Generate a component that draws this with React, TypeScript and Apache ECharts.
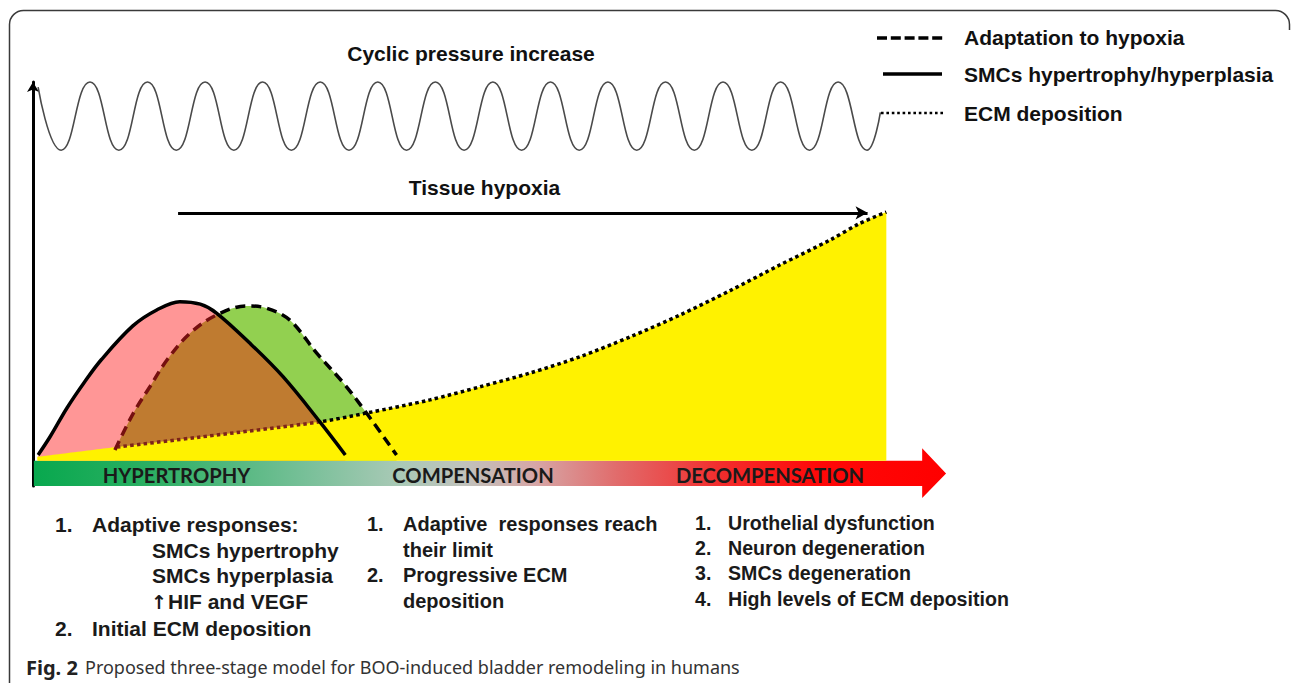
import React, { useEffect, useRef } from "react";
import * as echarts from "echarts";

// x: course of the disease (0 = onset, 100 = end of decompensation); y: relative level
const waveX = [0.6, 3.3, 6.68, 10.06, 13.42, 16.79, 20.17, 23.54, 26.91, 30.28, 33.66, 37.03, 40.4, 43.77, 47.15, 50.52, 53.89, 57.26, 60.64, 64.01, 67.37, 70.75, 74.12, 77.5, 80.86, 84.24, 87.61, 90.99, 94.35, 97.73, 99.3];
const waveY = [148, 123, 150, 123, 150, 123, 150, 123, 150, 123, 150, 123, 150, 123, 150, 123, 150, 123, 150, 123, 150, 123, 150, 123, 150, 123, 150, 123, 150, 123, 138];

const smcX = [0.6, 2, 4, 6, 8, 11.7, 14.5, 17.2, 19.6, 21.5, 25.4, 29.3, 33.6, 36.6];
const smcY = [2.3, 9.5, 21, 31, 40, 53.4, 59.7, 63, 62, 58.5, 46.6, 33.3, 15.5, 2.3];

const adaptX = [9.6, 11.75, 13.7, 15.7, 18.4, 21.5, 25, 27.4, 30.1, 33.25, 36.4, 39.1, 42.6];
const adaptY = [4.3, 18.8, 29.3, 39.9, 50.5, 57.7, 61.3, 60.4, 55.7, 42.6, 30.7, 18.8, 2.3];

const ecmX = [0.5, 9.8, 19.6, 33.6, 39.1, 46.5, 52.4, 58.3, 64.1, 70, 75.8, 81.7, 87.5, 93.4, 96.9, 100];
const ecmY = [1.5, 5.4, 9.4, 15.4, 18.9, 24.1, 29.3, 34.8, 41.2, 49.1, 57.7, 67.4, 77.5, 87.4, 94, 98.5];

const hypoxiaFrom = 17.0;
const hypoxiaTo = 97.8;
const hypoxiaLevel = 98.2;

// stage arrow: band from x 0 to head base, head to tip
const stageStart = 0.1;
const stageHeadBase = 104.2;
const stageTip = 107.0;
const stageTop = 0;
const stageBottom = -10;
const stageHeadTop = 5;
const stageHeadBottom = -14.8;

const stageNames = ["HYPERTROPHY", "COMPENSATION", "DECOMPENSATION"];

const legendLabels = ["Adaptation to hypoxia", "SMCs hypertrophy/hyperplasia", "ECM deposition"];

const col1 = [
  ["1.", "Adaptive responses:"],
  ["", "SMCs hypertrophy"],
  ["", "SMCs hyperplasia"],
  ["", "HIF and VEGF"],
  ["2.", "Initial ECM deposition"],
];
const col2 = [
  ["1.", "Adaptive  responses reach"],
  ["", "their limit"],
  ["2.", "Progressive ECM"],
  ["", "deposition"],
];
const col3 = [
  ["1.", "Urothelial dysfunction"],
  ["2.", "Neuron degeneration"],
  ["3.", "SMCs degeneration"],
  ["4.", "High levels of ECM deposition"],
];

const pairs = (xs: number[], ys: number[]) => xs.map((x, i) => [x, ys[i]]);

const ARIAL = "Liberation Sans, Arial, sans-serif";

function txt(text: string, x: number, y: number, o: any = {}) {
  const align = o.align || "left";
  return {
    type: "text",
    x,
    y,
    silent: true,
    z: 10,
    style: {
      text,
      fill: o.color || "#111",
      fontSize: o.size || 21,
      fontWeight: o.weight || "bold",
      fontFamily: o.family || ARIAL,
      align,
      textAlign: align,
      verticalAlign: "middle",
      textVerticalAlign: "middle",
    },
  };
}

export default function App() {
  const ref = useRef<HTMLDivElement>(null);
  useEffect(() => {
    if (!ref.current) return;
    const chart = echarts.init(ref.current, undefined, { renderer: "svg" });

    const bandGradient = new echarts.graphic.LinearGradient(0, 0, 1, 0, [
      { offset: 0, color: "#08a84e" },
      { offset: 0.13, color: "#2caf63" },
      { offset: 0.29, color: "#74bf96" },
      { offset: 0.4, color: "#a9c9b6" },
      { offset: 0.47, color: "#c0c3bd" },
      { offset: 0.55, color: "#d6a6a6" },
      { offset: 0.64, color: "#e16b6b" },
      { offset: 0.75, color: "#f22e2e" },
      { offset: 0.86, color: "#ff0808" },
      { offset: 1, color: "#ff0000" },
    ]);

    const dashedGradient = new echarts.graphic.LinearGradient(0, 0, 1, 0, [
      { offset: 0, color: "#761010" },
      { offset: 0.36, color: "#761010" },
      { offset: 0.365, color: "#000" },
      { offset: 1, color: "#000" },
    ]);

    const dottedGradient = new echarts.graphic.LinearGradient(0, 0, 1, 0, [
      { offset: 0, color: "rgba(0,0,0,0)" },
      { offset: 0.094, color: "rgba(0,0,0,0)" },
      { offset: 0.095, color: "#7d2418" },
      { offset: 0.333, color: "#7d2418" },
      { offset: 0.335, color: "#000" },
      { offset: 1, color: "#000" },
    ]);

    const stageFont = { align: "center", family: "Lato, sans-serif", size: 20.2, color: "#1a1a1a" };

    const graphics: any[] = [
      {
        type: "rect",
        silent: true,
        z: 0,
        shape: { x: 9.5, y: 10.5, width: 1280, height: 720, r: [14, 14, 0, 0] },
        style: { fill: "none", stroke: "#3a3a3a", lineWidth: 1.5 },
      },
      {
        type: "rect",
        silent: true,
        z: 1,
        shape: { x: 1286, y: 30, width: 10, height: 660 },
        style: { fill: "#fff" },
      },
      txt("Cyclic pressure increase", 471, 53, { align: "center" }),
      txt("Tissue hypoxia", 484.5, 187, { align: "center" }),
      // legend
      {
        type: "line",
        silent: true,
        z: 10,
        shape: { x1: 877, y1: 38, x2: 943, y2: 38 },
        style: { stroke: "#000", lineWidth: 3.5, lineDash: [10, 3.8] },
      },
      {
        type: "line",
        silent: true,
        z: 10,
        shape: { x1: 883, y1: 74, x2: 942, y2: 74 },
        style: { stroke: "#000", lineWidth: 3.3 },
      },
      {
        type: "line",
        silent: true,
        z: 10,
        shape: { x1: 881, y1: 113, x2: 945, y2: 113 },
        style: { stroke: "#000", lineWidth: 2.6, lineDash: [2.6, 2.8] },
      },
      txt(legendLabels[0], 964, 37),
      txt(legendLabels[1], 964, 74.5),
      txt(legendLabels[2], 964, 113),
      // stage names
      txt(stageNames[0], 176.5, 474.5, stageFont),
      txt(stageNames[1], 473, 474.5, stageFont),
      txt(stageNames[2], 770, 474.5, stageFont),
      // caption
      txt("Fig. 2", 26, 667, { family: "Noto Sans, sans-serif", size: 20, color: "#222" }),
      txt("Proposed three-stage model for BOO-induced bladder remodeling in humans", 85, 667, {
        family: "Noto Sans, sans-serif",
        size: 18,
        weight: "normal",
        color: "#333",
      }),
    ];

    const col1Y = [524, 550, 575, 601.5, 628.5];
    col1.forEach((row, i) => {
      if (row[0]) graphics.push(txt(row[0], 55, col1Y[i], { color: "#1a1a1a" }));
      let x = 92;
      if (i === 1 || i === 2) x = 152;
      if (i === 3) {
        graphics.push(txt("\u2191", 151, col1Y[i], { color: "#1a1a1a", family: "DejaVu Sans, sans-serif", size: 19 }));
        x = 168;
      }
      graphics.push(txt(row[1], x, col1Y[i], { color: "#1a1a1a" }));
    });
    const col2Y = [524, 549.5, 575, 601];
    col2.forEach((row, i) => {
      if (row[0]) graphics.push(txt(row[0], 367, col2Y[i], { color: "#1a1a1a", size: 20 }));
      graphics.push(txt(row[1], 403, col2Y[i], { color: "#1a1a1a", size: 20 }));
    });
    const col3Y = [523, 548, 573, 599];
    col3.forEach((row, i) => {
      graphics.push(txt(row[0], 695, col3Y[i], { color: "#1a1a1a", size: 19.6 }));
      graphics.push(txt(row[1], 728, col3Y[i], { color: "#1a1a1a", size: 19.6 }));
    });

    const option: any = {
      animation: false,
      grid: { left: 33, top: 82, width: 1024, height: 404, containLabel: false },
      xAxis: { type: "value", min: 0, max: 120, show: false },
      yAxis: {
        type: "value",
        min: -10,
        max: 150,
        axisLine: {
          show: true,
          symbol: ["none", "arrow"],
          symbolSize: [9, 10],
          lineStyle: { color: "#000", width: 3 },
        },
        axisTick: { show: false },
        axisLabel: { show: false },
        splitLine: { show: false },
      },
      series: [
        {
          name: "Cyclic pressure increase",
          type: "line",
          data: pairs(waveX, waveY),
          smooth: 0.5,
          symbol: "none",
          clip: false,
          silent: true,
          lineStyle: { color: "#4a4a4a", width: 1.6 },
        },
        {
          name: "Adaptation to hypoxia area",
          type: "line",
          data: pairs(adaptX, adaptY),
          smooth: 0.35,
          symbol: "none",
          silent: true,
          lineStyle: { width: 0 },
          areaStyle: { color: "#92D050", opacity: 1 },
        },
        {
          name: "SMCs hypertrophy/hyperplasia area",
          type: "line",
          data: pairs(smcX, smcY),
          smooth: 0.35,
          symbol: "none",
          silent: true,
          lineStyle: { width: 0 },
          areaStyle: { color: "rgba(255,5,5,0.42)", opacity: 1 },
        },
        {
          name: "ECM deposition",
          type: "line",
          data: pairs(ecmX, ecmY),
          smooth: 0.3,
          symbol: "none",
          silent: true,
          lineStyle: { color: dottedGradient, width: 3.5, type: [3.5, 3.2] },
          areaStyle: { color: "#FFF200", opacity: 1 },
          markLine: {
            silent: true,
            symbol: ["none", "arrow"],
            symbolSize: [10, 12],
            label: { show: false },
            lineStyle: { color: "#000", width: 3, type: "solid" },
            data: [[{ coord: [hypoxiaFrom, hypoxiaLevel] }, { coord: [hypoxiaTo, hypoxiaLevel] }]],
          },
        },
        {
          name: "SMCs hypertrophy/hyperplasia",
          type: "line",
          data: pairs(smcX, smcY),
          smooth: 0.35,
          symbol: "none",
          silent: true,
          lineStyle: { color: "#000", width: 3.5 },
        },
        {
          name: "Adaptation to hypoxia",
          type: "line",
          data: pairs(adaptX, adaptY),
          smooth: 0.35,
          symbol: "none",
          silent: true,
          lineStyle: { color: dashedGradient, width: 3.5, type: [10, 6] },
        },
        {
          name: "Stages",
          type: "custom",
          silent: true,
          data: [[stageStart, stageTop]],
          renderItem: (params: any, api: any) => {
            const c = (x: number, y: number) => api.coord([x, y]);
            const mid = (stageTop + stageBottom) / 2;
            return {
              type: "polygon",
              shape: {
                points: [
                  c(stageStart, stageTop),
                  c(stageHeadBase, stageTop),
                  c(stageHeadBase, stageHeadTop),
                  c(stageTip, mid),
                  c(stageHeadBase, stageHeadBottom),
                  c(stageHeadBase, stageBottom),
                  c(stageStart, stageBottom),
                ],
              },
              style: { fill: bandGradient },
            };
          },
        },
      ],
      graphic: graphics,
    };
    chart.setOption(option);
    return () => chart.dispose();
  }, []);
  return <div ref={ref} style={{ position: "absolute", left: 0, top: 0, width: 1293, height: 683 }} />;
}
